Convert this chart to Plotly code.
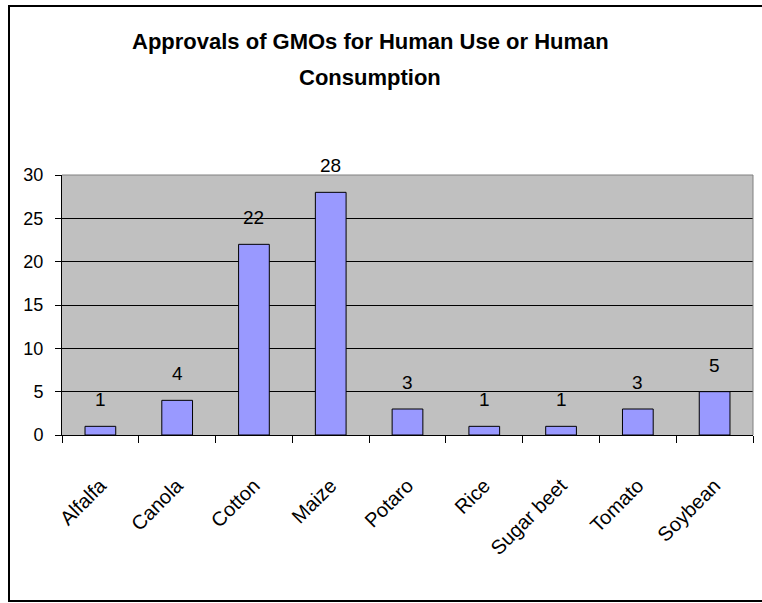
import plotly.graph_objects as go

categories = ["Alfalfa", "Canola", "Cotton", "Maize", "Potaro", "Rice", "Sugar beet", "Tomato", "Soybean"]
values = [1, 4, 22, 28, 3, 1, 1, 3, 5]
y_ticks = [0, 5, 10, 15, 20, 25, 30]
title_lines = ["Approvals of GMOs for Human Use or Human", "Consumption"]

FONT = "Liberation Sans, Arial, sans-serif"

W, H = 762, 603
L, R, T, B = 62, 753, 175, 435

pw = R - L
ph = B - T
def px_x(p):
    return (p - L) / pw
def px_y(p):
    return (B - p) / ph

fig = go.Figure()
fig.add_trace(go.Bar(
    x=categories, y=values,
    marker=dict(color="#9999FF", line=dict(color="black", width=1)),
    width=0.4,
))

annotations = []
for c, v in zip(categories, values):
    annotations.append(dict(x=c, y=v, xref="x", yref="y", text=str(v), showarrow=False,
                            yanchor="bottom", yshift=14,
                            font=dict(family=FONT, size=19, color="black")))
# title lines
for line, cy in zip(title_lines, [41, 77]):
    annotations.append(dict(x=px_x(370), y=px_y(cy), xref="paper", yref="paper",
                            text=line, showarrow=False, xanchor="center", yanchor="middle",
                            font=dict(family=FONT, size=22, color="black", weight="bold")))

shapes = [
    dict(type="line", xref="paper", yref="paper", x0=0, x1=1, y0=1, y1=1,
         line=dict(color="#808080", width=1)),
    dict(type="line", xref="paper", yref="paper", x0=1, x1=1, y0=0, y1=1,
         line=dict(color="#808080", width=1)),
    dict(type="rect", xref="paper", yref="paper",
         x0=px_x(9), x1=px_x(775), y0=px_y(601), y1=px_y(6),
         line=dict(color="black", width=2), fillcolor="rgba(0,0,0,0)"),
]

fig.update_layout(
    width=W, height=H,
    margin=dict(l=L, r=W - R, t=T, b=H - B, pad=0),
    paper_bgcolor="white",
    plot_bgcolor="#C0C0C0",
    showlegend=False,
    bargap=0.6,
    annotations=annotations,
    shapes=shapes,
    font=dict(family=FONT, color="black"),
)

fig.update_xaxes(
    showline=True, linecolor="black", linewidth=1,
    ticks="outside", tickson="boundaries", ticklen=7, tickcolor="black", tickwidth=1,
    tickangle=-45, tickfont=dict(family=FONT, size=20, color="black"),
    ticklabelstandoff=30, showgrid=False,
)
fig.update_yaxes(
    range=[0, 30], tickvals=y_ticks,
    showline=True, linecolor="black", linewidth=1,
    ticks="outside", ticklen=6, tickcolor="black", tickwidth=1,
    tickfont=dict(family=FONT, size=18, color="black"),
    ticklabelstandoff=8,
    showgrid=True, gridcolor="black", gridwidth=1, zeroline=False,
)

fig.write_html("out.html", config={"displayModeBar": False},
               post_script="document.body.style.margin='0px';")
